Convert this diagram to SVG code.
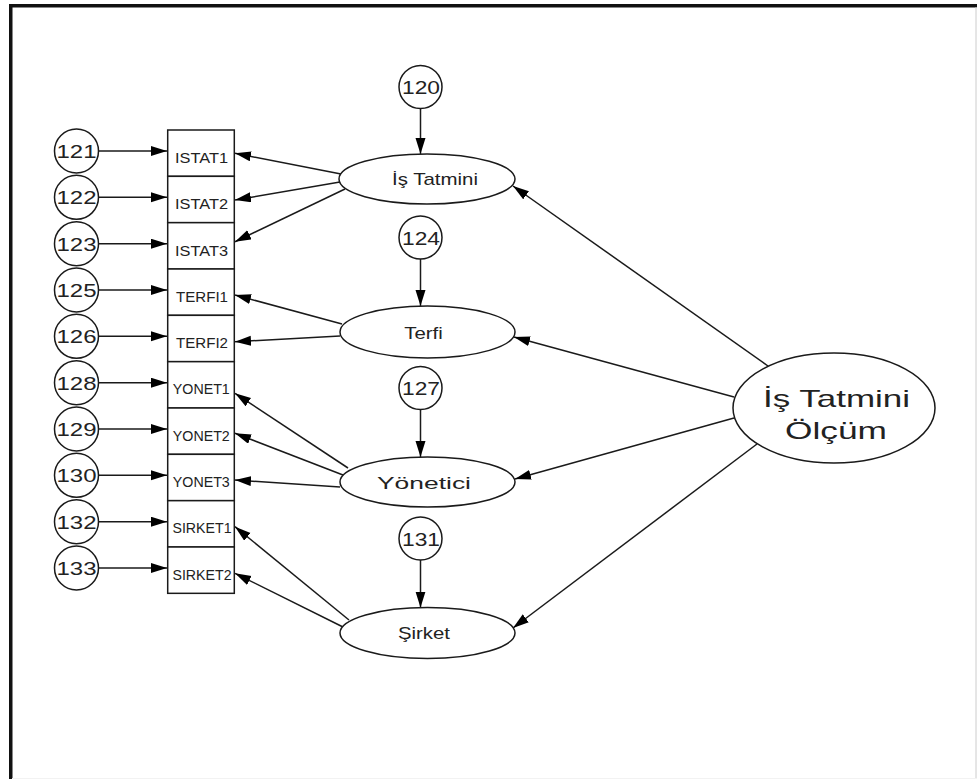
<svg xmlns="http://www.w3.org/2000/svg" width="977" height="779" viewBox="0 0 977 779">
<defs>
<marker id="arr" markerUnits="userSpaceOnUse" markerWidth="17" markerHeight="11" refX="16" refY="5" orient="auto">
<path d="M0,0 L16,5 L0,10 z" fill="#000"/>
</marker>
<style>
.sh{fill:#fff;stroke:#1a1a1a;stroke-width:1.5}
.ln{stroke:#1a1a1a;stroke-width:1.5;fill:none;marker-end:url(#arr)}
text{font-family:"Liberation Sans",Arial,sans-serif;fill:#222;text-anchor:middle}
.num{font-size:19px}
.box{font-size:14.5px}
.lat{font-size:17px}
.big{font-size:24px}
</style>
</defs>
<rect x="0" y="0" width="977" height="779" fill="#fff"/>
<g id="frame">
<rect x="9" y="4" width="968" height="3.5" fill="#111"/>
<rect x="9" y="4" width="3.5" height="775" fill="#111"/>
<line x1="976" y1="7" x2="976" y2="779" stroke="#ccc" stroke-width="1"/>
<line x1="12" y1="778.5" x2="977" y2="778.5" stroke="#f2f2f2" stroke-width="1"/>
</g>
<g id="connectors">
<line class="ln" x1="98.5" y1="151" x2="167" y2="151"/>
<line class="ln" x1="98.5" y1="197.3" x2="167" y2="197.3"/>
<line class="ln" x1="98.5" y1="243.7" x2="167" y2="243.7"/>
<line class="ln" x1="98.5" y1="290" x2="167" y2="290"/>
<line class="ln" x1="98.5" y1="336.3" x2="167" y2="336.3"/>
<line class="ln" x1="98.5" y1="382.7" x2="167" y2="382.7"/>
<line class="ln" x1="98.5" y1="429" x2="167" y2="429"/>
<line class="ln" x1="98.5" y1="475.3" x2="167" y2="475.3"/>
<line class="ln" x1="98.5" y1="521.7" x2="167" y2="521.7"/>
<line class="ln" x1="98.5" y1="568" x2="167" y2="568"/>
<line class="ln" x1="420.5" y1="108.5" x2="420.5" y2="154"/>
<line class="ln" x1="420.5" y1="259" x2="420.5" y2="306"/>
<line class="ln" x1="420.5" y1="409.5" x2="420.5" y2="457"/>
<line class="ln" x1="420.5" y1="560" x2="420.5" y2="607.5"/>
<line class="ln" x1="341" y1="174" x2="235" y2="153.3"/>
<line class="ln" x1="340" y1="182" x2="235" y2="200"/>
<line class="ln" x1="345" y1="189" x2="235" y2="241.7"/>
<line class="ln" x1="342" y1="324" x2="235" y2="295"/>
<line class="ln" x1="340" y1="336" x2="235" y2="341.7"/>
<line class="ln" x1="348" y1="468" x2="235" y2="393.3"/>
<line class="ln" x1="343" y1="475" x2="235" y2="433.3"/>
<line class="ln" x1="340" y1="487" x2="235" y2="480"/>
<line class="ln" x1="349" y1="620" x2="235" y2="526.7"/>
<line class="ln" x1="343" y1="627" x2="235" y2="573.3"/>
<line class="ln" x1="768" y1="366" x2="513" y2="186"/>
<line class="ln" x1="734" y1="397" x2="514" y2="337"/>
<line class="ln" x1="734" y1="418" x2="515" y2="479"/>
<line class="ln" x1="757" y1="444" x2="513" y2="628"/>
</g>
<g id="obs">
<g id="ISTAT1"><rect class="sh" x="167.7" y="130" width="66.6" height="46.33"/><text class="box" x="201.5" y="163" textLength="53" lengthAdjust="spacingAndGlyphs">ISTAT1</text></g>
<g id="ISTAT2"><rect class="sh" x="167.7" y="176.33" width="66.6" height="46.33"/><text class="box" x="201.5" y="209.3" textLength="53" lengthAdjust="spacingAndGlyphs">ISTAT2</text></g>
<g id="ISTAT3"><rect class="sh" x="167.7" y="222.67" width="66.6" height="46.33"/><text class="box" x="201.5" y="255.7" textLength="53" lengthAdjust="spacingAndGlyphs">ISTAT3</text></g>
<g id="TERFI1"><rect class="sh" x="167.7" y="269" width="66.6" height="46.33"/><text class="box" x="202" y="301.7" textLength="52" lengthAdjust="spacingAndGlyphs">TERFI1</text></g>
<g id="TERFI2"><rect class="sh" x="167.7" y="315.33" width="66.6" height="46.33"/><text class="box" x="202" y="348" textLength="52" lengthAdjust="spacingAndGlyphs">TERFI2</text></g>
<g id="YONET1"><rect class="sh" x="167.7" y="361.67" width="66.6" height="46.33"/><text class="box" x="201.3" y="394.3" textLength="57" lengthAdjust="spacingAndGlyphs">YONET1</text></g>
<g id="YONET2"><rect class="sh" x="167.7" y="408" width="66.6" height="46.33"/><text class="box" x="201.3" y="440.7" textLength="57" lengthAdjust="spacingAndGlyphs">YONET2</text></g>
<g id="YONET3"><rect class="sh" x="167.7" y="454.33" width="66.6" height="46.33"/><text class="box" x="201.3" y="487" textLength="57" lengthAdjust="spacingAndGlyphs">YONET3</text></g>
<g id="SIRKET1"><rect class="sh" x="167.7" y="500.67" width="66.6" height="46.33"/><text class="box" x="202" y="533.3" textLength="59" lengthAdjust="spacingAndGlyphs">SIRKET1</text></g>
<g id="SIRKET2"><rect class="sh" x="167.7" y="547" width="66.6" height="46.33"/><text class="box" x="202" y="579.7" textLength="59" lengthAdjust="spacingAndGlyphs">SIRKET2</text></g>
</g>
<g id="errors">
<g id="e121"><circle class="sh" cx="76.5" cy="151" r="22"/><text class="num" x="76.5" y="158" textLength="40" lengthAdjust="spacingAndGlyphs">121</text></g>
<g id="e122"><circle class="sh" cx="76.5" cy="197.3" r="22"/><text class="num" x="76.5" y="204.3" textLength="40" lengthAdjust="spacingAndGlyphs">122</text></g>
<g id="e123"><circle class="sh" cx="76.5" cy="243.7" r="22"/><text class="num" x="76.5" y="250.7" textLength="40" lengthAdjust="spacingAndGlyphs">123</text></g>
<g id="e125"><circle class="sh" cx="76.5" cy="290" r="22"/><text class="num" x="76.5" y="297" textLength="40" lengthAdjust="spacingAndGlyphs">125</text></g>
<g id="e126"><circle class="sh" cx="76.5" cy="336.3" r="22"/><text class="num" x="76.5" y="343.3" textLength="40" lengthAdjust="spacingAndGlyphs">126</text></g>
<g id="e128"><circle class="sh" cx="76.5" cy="382.7" r="22"/><text class="num" x="76.5" y="389.7" textLength="40" lengthAdjust="spacingAndGlyphs">128</text></g>
<g id="e129"><circle class="sh" cx="76.5" cy="429" r="22"/><text class="num" x="76.5" y="436" textLength="40" lengthAdjust="spacingAndGlyphs">129</text></g>
<g id="e130"><circle class="sh" cx="76.5" cy="475.3" r="22"/><text class="num" x="76.5" y="482.3" textLength="40" lengthAdjust="spacingAndGlyphs">130</text></g>
<g id="e132"><circle class="sh" cx="76.5" cy="521.7" r="22"/><text class="num" x="76.5" y="528.7" textLength="40" lengthAdjust="spacingAndGlyphs">132</text></g>
<g id="e133"><circle class="sh" cx="76.5" cy="568" r="22"/><text class="num" x="76.5" y="575" textLength="40" lengthAdjust="spacingAndGlyphs">133</text></g>
<g id="e120"><circle class="sh" cx="420.5" cy="87" r="21.5"/><text class="num" x="421" y="94" textLength="38" lengthAdjust="spacingAndGlyphs">120</text></g>
<g id="e124"><circle class="sh" cx="420.5" cy="237.5" r="21.5"/><text class="num" x="421" y="244.5" textLength="38" lengthAdjust="spacingAndGlyphs">124</text></g>
<g id="e127"><circle class="sh" cx="420.5" cy="388" r="21.5"/><text class="num" x="421" y="395" textLength="38" lengthAdjust="spacingAndGlyphs">127</text></g>
<g id="e131"><circle class="sh" cx="420.5" cy="538.5" r="21.5"/><text class="num" x="421" y="545.5" textLength="38" lengthAdjust="spacingAndGlyphs">131</text></g>
</g>
<g id="latents">
<g id="IsTatmini"><ellipse class="sh" cx="427" cy="179" rx="88" ry="25"/><text class="lat" x="435" y="185" textLength="86" lengthAdjust="spacingAndGlyphs">İş Tatmini</text></g>
<g id="Terfi"><ellipse class="sh" cx="427.5" cy="332" rx="87.5" ry="26"/><text class="lat" x="423.5" y="339" textLength="38.5" lengthAdjust="spacingAndGlyphs">Terfi</text></g>
<g id="Yonetici"><ellipse class="sh" cx="427.5" cy="482" rx="87.5" ry="25"/><text class="lat" x="424" y="489" textLength="94" lengthAdjust="spacingAndGlyphs">Yönetici</text></g>
<g id="Sirket"><ellipse class="sh" cx="427.5" cy="633" rx="87.5" ry="25.5"/><text class="lat" x="424" y="639" textLength="52" lengthAdjust="spacingAndGlyphs">Şirket</text></g>
<g id="IsTatminiOlcum"><ellipse class="sh" cx="834" cy="408" rx="101" ry="55"/><text class="big" x="836.5" y="407" textLength="147" lengthAdjust="spacingAndGlyphs">İş Tatmini</text><text class="big" x="836" y="439" textLength="102" lengthAdjust="spacingAndGlyphs">Ölçüm</text></g>
</g>
</svg>
